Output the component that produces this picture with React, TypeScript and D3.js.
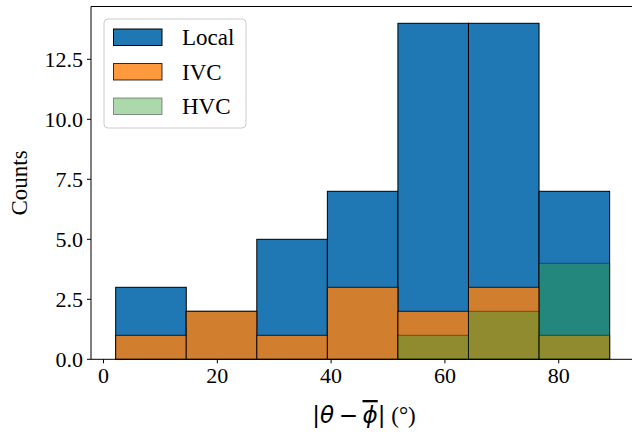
import React from "react";
import * as d3 from "d3";

const binEdges = [2.14, 14.54, 26.94, 39.34, 51.74, 64.14, 76.54, 88.95];
const localCounts = [3, 2, 5, 7, 14, 14, 7];
const ivcCounts = [1, 2, 1, 3, 2, 3, 1];
const hvcCounts = [0, 0, 0, 0, 1, 2, 4];
const xTicks = [0, 20, 40, 60, 80];
const yTicks = [0, 2.5, 5, 7.5, 10, 12.5];
const seriesNames = ["Local", "IVC", "HVC"];

const W = 632;
const H = 435;
const serif = "'Liberation Serif', 'Times New Roman', serif";
const math = "'DejaVu Sans', sans-serif";

export default function App() {
  const x = d3.scaleLinear().domain([-2.2, 93.3]).range([91, 634.4]);
  const y = d3.scaleLinear().domain([0, 14.7]).range([359.3, 6.5]);

  const series = [
    { name: seriesNames[0], counts: localCounts, color: "#1f77b4", alpha: 1 },
    { name: seriesNames[1], counts: ivcCounts, color: "#ff7f0e", alpha: 0.8 },
    { name: seriesNames[2], counts: hvcCounts, color: "#2ca02c", alpha: 0.4 },
  ];

  const x0 = x.range()[0];
  const x1 = x.range()[1];
  const yb = y.range()[0];
  const yt = y.range()[1];

  return (
    <svg
      width={W}
      height={H}
      style={{ position: "absolute", left: 0, top: 0, background: "#fff" }}
    >
      <rect x={0} y={0} width={W} height={H} fill="#fff" />
      {series.map((s) => (
        <g key={s.name}>
          {s.counts.map((c, i) => (
            <rect
              key={i}
              x={x(binEdges[i])}
              y={y(c)}
              width={x(binEdges[i + 1]) - x(binEdges[i])}
              height={yb - y(c)}
              fill={s.color}
              fillOpacity={s.alpha}
              stroke="#000"
              strokeOpacity={s.alpha}
              strokeWidth={1}
            />
          ))}
        </g>
      ))}
      {/* spines */}
      <line x1={x0} x2={x0} y1={yt} y2={yb} stroke="#000" strokeWidth={1} />
      <line x1={x0} x2={x1} y1={yb} y2={yb} stroke="#000" strokeWidth={1} />
      <line x1={x0} x2={x1} y1={yt} y2={yt} stroke="#000" strokeWidth={1} />
      {/* x ticks */}
      {xTicks.map((t) => (
        <g key={t}>
          <line x1={x(t)} x2={x(t)} y1={yb} y2={yb + 4} stroke="#000" strokeWidth={1} />
          <text
            x={x(t)}
            y={yb + 24}
            textAnchor="middle"
            fontFamily={serif}
            fontSize={22}
            fill="#000"
          >
            {t}
          </text>
        </g>
      ))}
      {/* y ticks */}
      {yTicks.map((t) => (
        <g key={t}>
          <line x1={x0 - 4} x2={x0} y1={y(t)} y2={y(t)} stroke="#000" strokeWidth={1} />
          <text
            x={x0 - 8}
            y={y(t) + 7.5}
            textAnchor="end"
            fontFamily={serif}
            fontSize={22}
            fill="#000"
          >
            {t.toFixed(1)}
          </text>
        </g>
      ))}
      {/* y label */}
      <text
        transform={`translate(27, ${(yt + yb) / 2}) rotate(-90)`}
        textAnchor="middle"
        fontFamily={serif}
        fontSize={23}
        fill="#000"
      >
        Counts
      </text>
      {/* x label */}
      <text x={364} y={423} textAnchor="middle" fill="#000">
        <tspan fontFamily={math} fontSize={23}>|</tspan>
        <tspan fontFamily={math} fontSize={23} fontStyle="italic">θ</tspan>
        <tspan fontFamily={math} fontSize={23}>{"\u2009−\u2009"}</tspan>
        <tspan
          fontFamily={math}
          fontSize={23}
          fontStyle="italic"
          textDecoration="overline"
        >
          ϕ
        </tspan>
        <tspan fontFamily={math} fontSize={23}>|</tspan>
        <tspan fontFamily={serif} fontSize={23}> (°)</tspan>
      </text>
      {/* legend */}
      <g>
        <rect
          x={104}
          y={19}
          width={142}
          height={109}
          rx={4}
          fill="#fff"
          fillOpacity={0.8}
          stroke="#cccccc"
          strokeWidth={1}
        />
        {series.map((s, i) => (
          <g key={s.name}>
            <rect
              x={113.5}
              y={29 + i * 34.5}
              width={48.5}
              height={16.5}
              fill={s.color}
              fillOpacity={s.alpha}
              stroke="#000"
              strokeOpacity={s.alpha}
              strokeWidth={1}
            />
            <text
              x={182}
              y={29 + i * 34.5 + 16}
              fontFamily={serif}
              fontSize={23}
              fill="#000"
            >
              {s.name}
            </text>
          </g>
        ))}
      </g>
    </svg>
  );
}
